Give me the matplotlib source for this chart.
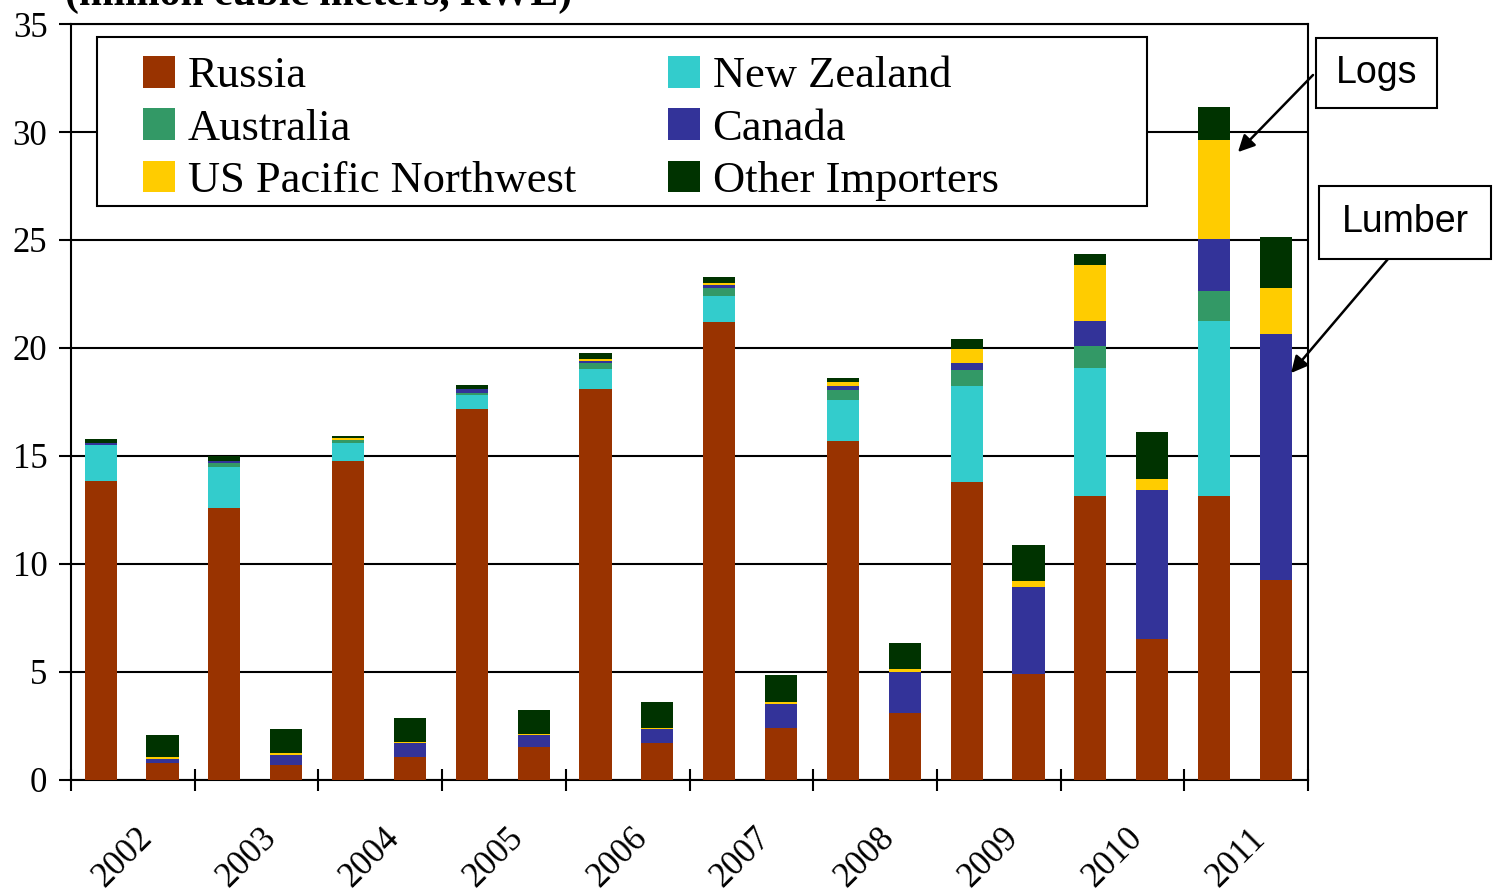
import matplotlib
matplotlib.use("Agg")
import matplotlib.pyplot as plt
from matplotlib.patches import Rectangle
import numpy as np

years = ["2002", "2003", "2004", "2005", "2006", "2007", "2008", "2009", "2010", "2011"]

# logs (left bar of each year), million m3 RWE
russia_logs = [13.83, 12.58, 14.75, 17.16, 18.12, 21.19, 15.69, 13.79, 13.16, 13.16]
nz_logs = [1.66, 1.90, 0.83, 0.65, 0.89, 1.21, 1.90, 4.45, 5.92, 8.11]
aus_logs = [0.02, 0.18, 0.14, 0.09, 0.29, 0.40, 0.46, 0.74, 1.03, 1.35]
can_logs = [0.10, 0.09, 0.03, 0.19, 0.09, 0.10, 0.19, 0.33, 1.16, 2.44]
us_logs = [0.0, 0.0, 0.09, 0.0, 0.09, 0.09, 0.18, 0.64, 2.55, 4.59]
other_logs = [0.18, 0.23, 0.09, 0.18, 0.27, 0.28, 0.19, 0.47, 0.55, 1.49]

# lumber (right bar of each year)
russia_lum = [0.79, 0.69, 1.06, 1.53, 1.72, 2.41, 3.09, 4.90, 6.54, 9.27]
nz_lum = [0, 0, 0, 0, 0, 0, 0, 0, 0, 0]
aus_lum = [0, 0, 0, 0, 0, 0, 0, 0, 0, 0]
can_lum = [0.18, 0.47, 0.65, 0.55, 0.63, 1.13, 1.90, 4.03, 6.89, 11.38]
us_lum = [0.09, 0.09, 0.05, 0.05, 0.06, 0.05, 0.14, 0.27, 0.52, 2.13]
other_lum = [1.02, 1.11, 1.11, 1.11, 1.21, 1.28, 1.20, 1.67, 2.17, 2.38]

names = ["Russia", "New Zealand", "Australia", "Canada", "US Pacific Northwest", "Other Importers"]
colors = ["#993300", "#33CCCC", "#339966", "#333399", "#FFCC00", "#003300"]

serif = "Liberation Serif"
W, H = 1493, 894


def fx(px):
    return px / W


def fy(py):
    return 1 - py / H


fig = plt.figure(figsize=(14.93, 8.94), dpi=100)
ax = fig.add_axes([fx(71), fy(780), 1237 / W, 756 / H])

x = np.arange(len(years))
w = 0.26
logs = [russia_logs, nz_logs, aus_logs, can_logs, us_logs, other_logs]
lum = [russia_lum, nz_lum, aus_lum, can_lum, us_lum, other_lum]

bottom = np.zeros(len(years))
handles = []
for vals, name, c in zip(logs, names, colors):
    b = ax.bar(x + 0.24, vals, w, bottom=bottom, color=c, label=name, zorder=3)
    handles.append(b)
    bottom += np.array(vals)

bottom = np.zeros(len(years))
for vals, c in zip(lum, colors):
    ax.bar(x + 0.74, vals, w, bottom=bottom, color=c, zorder=3)
    bottom += np.array(vals)

ax.set_xlim(0, 10)
ax.set_ylim(0, 35)
ax.set_yticks(range(0, 36, 5))
ax.yaxis.grid(True, color="black", linewidth=1.5, zorder=0)
ax.set_axisbelow(True)
for s in ax.spines.values():
    s.set_linewidth(1.5)
    s.set_color("black")

ax.set_xticks(np.arange(0, 11), minor=True)
ax.set_xticks(x + 0.42)
ax.set_xticklabels(years, rotation=45, ha="center", va="top", fontfamily=serif, fontsize=25)
ax.tick_params(axis="x", which="major", length=0, pad=30)
ax.tick_params(axis="x", which="minor", direction="inout", length=16, width=1.5)
ax.tick_params(axis="y", direction="out", length=9, width=1.5, pad=8)
for lab in ax.get_yticklabels():
    lab.set_fontfamily(serif)
    lab.set_fontsize(25)

# legend box drawn separately, legend itself frameless
ax.add_patch(Rectangle((fx(97), fy(206)), 1050 / W, 169 / H, transform=fig.transFigure,
                       facecolor="white", edgecolor="black", linewidth=1.5, zorder=4,
                       clip_on=False))
order = [0, 2, 4, 1, 3, 5]
leg = ax.legend([handles[i] for i in order], [names[i] for i in order], ncol=2,
                loc="upper left", bbox_to_anchor=(fx(143), fy(56)),
                bbox_transform=fig.transFigure,
                prop={"family": serif, "size": 32}, frameon=False,
                handlelength=0.72, handleheight=0.72, handletextpad=0.29,
                labelspacing=0.27, borderpad=0, borderaxespad=0, columnspacing=2.06)
leg.set_zorder(5)

fig.text(fx(65), fy(5), "(million cubic meters, RWE)", fontfamily=serif,
         fontweight="bold", fontsize=30, va="baseline", ha="left")

# Logs / Lumber callouts
sans = "Liberation Sans"
for (x0, y0, x1, y1), txt in [((1316, 38, 1437, 108), "Logs"),
                              ((1319, 186, 1491, 259), "Lumber")]:
    fig.patches.append(Rectangle((fx(x0), fy(y1)), (x1 - x0) / W, (y1 - y0) / H,
                                 transform=fig.transFigure, facecolor="white",
                                 edgecolor="black", linewidth=1.5))
    fig.text(fx((x0 + x1) / 2), fy((y0 + y1) / 2), txt, fontfamily=sans, fontsize=27,
             ha="center", va="center")

arrow = dict(arrowstyle="-|>", color="black", lw=1.8, mutation_scale=25, shrinkA=0, shrinkB=0)
ax.annotate("", xy=(9.434, 29.07), xytext=(fx(1313), fy(75)), textcoords="figure fraction",
            arrowprops=arrow, annotation_clip=False)
ax.annotate("", xy=(9.863, 18.84), xytext=(fx(1388), fy(259)), textcoords="figure fraction",
            arrowprops=arrow, annotation_clip=False)

fig.savefig("out.png", dpi=100)
